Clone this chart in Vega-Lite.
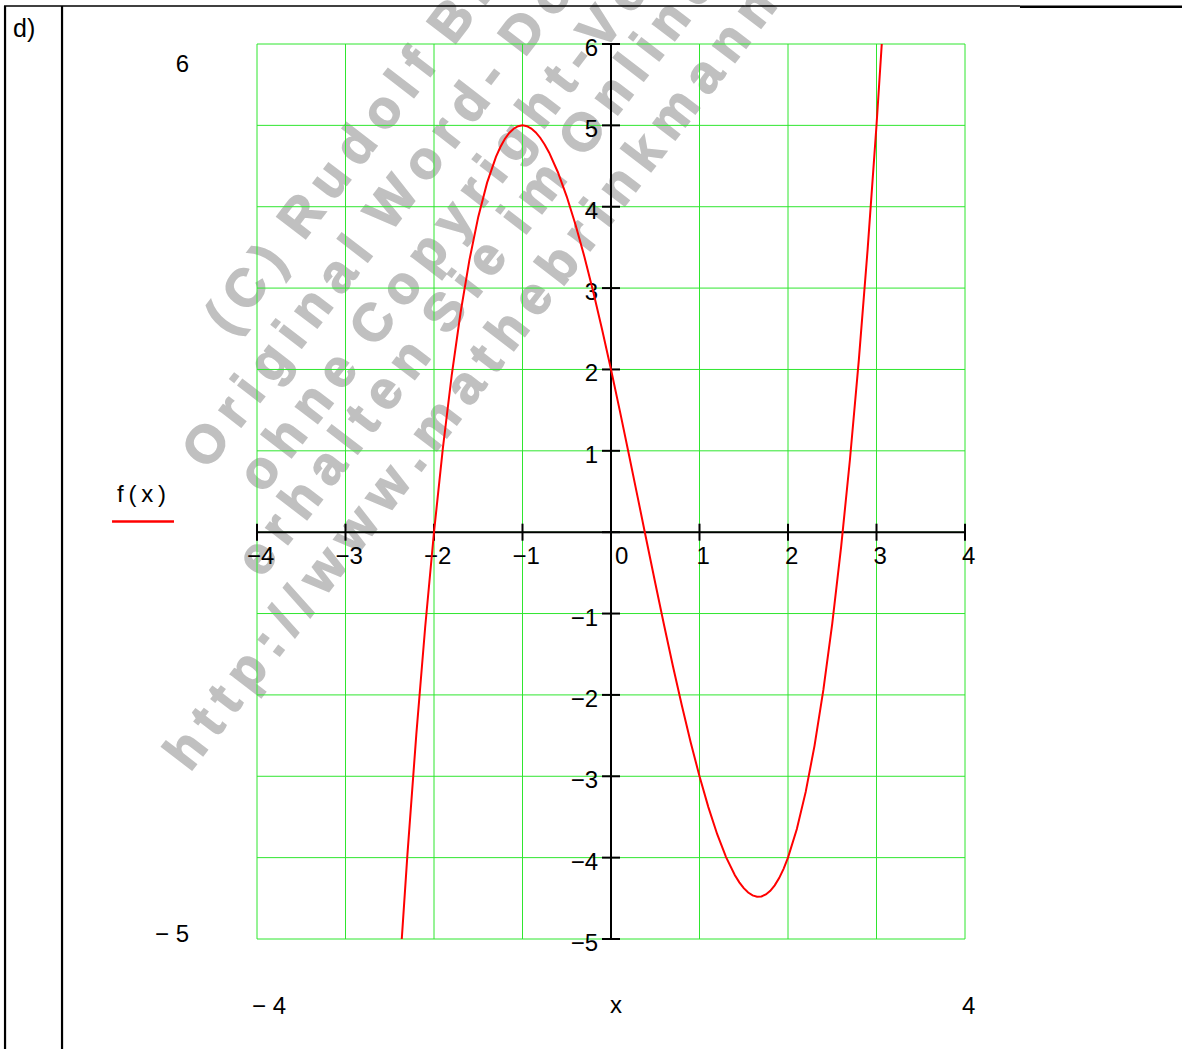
{
  "$schema": "https://vega.github.io/schema/vega-lite/v6.json",
  "width": 708,
  "height": 895,
  "autosize": {"type": "none"},
  "padding": {"left": 257, "top": 44, "right": 217, "bottom": 110},
  "background": "white",
  "config": {"view": {"stroke": null}, "axis": {"disable": true}, "text": {"font": "Liberation Sans", "fontSize": 24, "color": "black"}},
  "datasets": {
    "curve": [
      {"x": -2.4, "y": -5.584}, {"x": -2.3, "y": -3.957}, {"x": -2.2, "y": -2.488}, {"x": -2.1, "y": -1.171},
      {"x": -2.0, "y": 0}, {"x": -1.9, "y": 1.031}, {"x": -1.8, "y": 1.928}, {"x": -1.7, "y": 2.697},
      {"x": -1.6, "y": 3.344}, {"x": -1.5, "y": 3.875}, {"x": -1.4, "y": 4.296}, {"x": -1.3, "y": 4.613},
      {"x": -1.25, "y": 4.734}, {"x": -1.2, "y": 4.832}, {"x": -1.15, "y": 4.907}, {"x": -1.1, "y": 4.959},
      {"x": -1.05, "y": 4.99}, {"x": -1.0, "y": 5}, {"x": -0.95, "y": 4.99}, {"x": -0.9, "y": 4.961},
      {"x": -0.85, "y": 4.913}, {"x": -0.8, "y": 4.848}, {"x": -0.75, "y": 4.766}, {"x": -0.7, "y": 4.667},
      {"x": -0.6, "y": 4.424}, {"x": -0.5, "y": 4.125},
      {"x": -0.4, "y": 3.776}, {"x": -0.3, "y": 3.383}, {"x": -0.2, "y": 2.952}, {"x": -0.1, "y": 2.489},
      {"x": 0, "y": 2}, {"x": 0.1, "y": 1.491}, {"x": 0.2, "y": 0.968}, {"x": 0.3, "y": 0.437},
      {"x": 0.4, "y": -0.096}, {"x": 0.5, "y": -0.625}, {"x": 0.6, "y": -1.144}, {"x": 0.7, "y": -1.647},
      {"x": 0.8, "y": -2.128}, {"x": 0.9, "y": -2.581}, {"x": 1.0, "y": -3}, {"x": 1.1, "y": -3.379},
      {"x": 1.2, "y": -3.712}, {"x": 1.3, "y": -3.993}, {"x": 1.4, "y": -4.216}, {"x": 1.45, "y": -4.304},
      {"x": 1.5, "y": -4.375}, {"x": 1.55, "y": -4.429}, {"x": 1.6, "y": -4.464}, {"x": 1.65, "y": -4.48},
      {"x": 1.7, "y": -4.477}, {"x": 1.75, "y": -4.453}, {"x": 1.8, "y": -4.408}, {"x": 1.85, "y": -4.341},
      {"x": 1.9, "y": -4.251}, {"x": 1.95, "y": -4.138},
      {"x": 2.0, "y": -4}, {"x": 2.1, "y": -3.649}, {"x": 2.2, "y": -3.192}, {"x": 2.3, "y": -2.623},
      {"x": 2.4, "y": -1.936}, {"x": 2.5, "y": -1.125}, {"x": 2.6, "y": -0.184}, {"x": 2.7, "y": 0.893},
      {"x": 2.8, "y": 2.112}, {"x": 2.9, "y": 3.479}, {"x": 3.0, "y": 5}, {"x": 3.1, "y": 6.681}
    ],
    "xticks": [
      {"x": -4, "label": "−4"}, {"x": -3, "label": "−3"}, {"x": -2, "label": "−2"}, {"x": -1, "label": "−1"},
      {"x": 0, "label": "0"}, {"x": 1, "label": "1"}, {"x": 2, "label": "2"}, {"x": 3, "label": "3"}, {"x": 4, "label": "4"}
    ],
    "yticks": [
      {"y": -5, "label": "−5"}, {"y": -4, "label": "−4"}, {"y": -3, "label": "−3"}, {"y": -2, "label": "−2"},
      {"y": -1, "label": "−1"}, {"y": 0, "label": "0"}, {"y": 1, "label": "1"}, {"y": 2, "label": "2"},
      {"y": 3, "label": "3"}, {"y": 4, "label": "4"}, {"y": 5, "label": "5"}, {"y": 6, "label": "6"}
    ],
    "watermark": [
      {"t": "(\u2009C\u2009)\u2009\u00a0R\u2009u\u2009d\u2009o\u2009l\u2009f\u2009\u00a0B\u2009r\u2009i\u2009n\u2009k\u2009m\u2009a\u2009n\u2009n", "x": -4.3, "y": 2.4},
      {"t": "O\u2009r\u2009i\u2009g\u2009i\u2009n\u2009a\u2009l\u2009\u00a0W\u2009o\u2009r\u2009d\u2009-\u2009\u00a0D\u2009o\u2009k\u2009u\u2009m\u2009e\u2009n\u2009t", "x": -4.56, "y": 0.75},
      {"t": "o\u2009h\u2009n\u2009e\u2009\u00a0C\u2009o\u2009p\u2009y\u2009r\u2009i\u2009g\u2009h\u2009t\u2009-\u2009V\u2009e\u2009r\u2009m\u2009e\u2009r\u2009k", "x": -3.93, "y": 0.46},
      {"t": "e\u2009r\u2009h\u2009a\u2009l\u2009t\u2009e\u2009n\u2009\u00a0S\u2009i\u2009e\u2009\u00a0i\u2009m\u2009\u00a0O\u2009n\u2009l\u2009i\u2009n\u2009e\u2009-\u2009S\u2009h\u2009o\u2009p", "x": -3.95, "y": -0.58},
      {"t": "h\u2009t\u2009t\u2009p\u2009:\u2009/\u2009/\u2009w\u2009w\u2009w\u2009.\u2009m\u2009a\u2009t\u2009h\u2009e\u2009b\u2009r\u2009i\u2009n\u2009k\u2009m\u2009a\u2009n\u2009n\u2009.\u2009d\u2009e", "x": -4.76, "y": -2.96}
    ],
    "frameV": [
      {"x": -6.847, "y": 6.467, "y2": -6.4},
      {"x": -6.203, "y": 6.467, "y2": -6.4}
    ],
    "frameTopThin": [{"x": -6.859, "x2": 4.621, "y": 6.467}],
    "frameTopThick": [{"x": 4.621, "x2": 6.452, "y": 6.457}],
    "panel": [{"t": "d)", "x": -6.757, "y": 6.086}],
    "legendLine": [{"x": -5.638, "x2": -4.938, "y": 0.131}]
  },
  "layer": [
    {
      "data": {"name": "watermark"},
      "mark": {"type": "text", "angle": -52.5, "align": "left", "baseline": "alphabetic", "font": "Liberation Sans", "fontSize": 53, "fontWeight": 700, "color": "#c0c0c0", "stroke": "#c0c0c0", "strokeWidth": 1.5},
      "encoding": {
        "x": {"field": "x", "type": "quantitative", "scale": {"domain": [-4, 4], "nice": false, "zero": false}, "axis": null},
        "y": {"field": "y", "type": "quantitative", "scale": {"domain": [-5, 6], "nice": false, "zero": false}, "axis": null},
        "text": {"field": "t"}
      }
    },
    {
      "data": {"name": "xticks"},
      "mark": {"type": "rule", "color": "#2fe62f", "strokeWidth": 1},
      "encoding": {
        "x": {"field": "x", "type": "quantitative", "scale": {"domain": [-4, 4], "nice": false, "zero": false}, "axis": null}
      }
    },
    {
      "data": {"name": "yticks"},
      "mark": {"type": "rule", "color": "#2fe62f", "strokeWidth": 1},
      "encoding": {
        "y": {"field": "y", "type": "quantitative", "scale": {"domain": [-5, 6], "nice": false, "zero": false}, "axis": null}
      }
    },
    {
      "data": {"values": [{"o": 0}]},
      "mark": {"type": "rule", "color": "black", "strokeWidth": 2},
      "encoding": {
        "x": {"field": "o", "type": "quantitative", "scale": {"domain": [-4, 4], "nice": false, "zero": false}, "axis": null}
      }
    },
    {
      "data": {"values": [{"o": 0}]},
      "mark": {"type": "rule", "color": "black", "strokeWidth": 2},
      "encoding": {
        "y": {"field": "o", "type": "quantitative", "scale": {"domain": [-5, 6], "nice": false, "zero": false}, "axis": null}
      }
    },
    {
      "data": {"name": "xticks"},
      "mark": {"type": "tick", "orient": "vertical", "size": 17, "thickness": 2, "color": "black", "opacity": 1},
      "encoding": {
        "x": {"field": "x", "type": "quantitative", "scale": {"domain": [-4, 4], "nice": false, "zero": false}, "axis": null},
        "y": {"datum": 0, "type": "quantitative", "scale": {"domain": [-5, 6], "nice": false, "zero": false}, "axis": null}
      }
    },
    {
      "data": {"name": "yticks"},
      "mark": {"type": "tick", "orient": "horizontal", "size": 18, "thickness": 2, "color": "black", "opacity": 1},
      "encoding": {
        "x": {"datum": 0, "type": "quantitative", "scale": {"domain": [-4, 4], "nice": false, "zero": false}, "axis": null},
        "y": {"field": "y", "type": "quantitative", "scale": {"domain": [-5, 6], "nice": false, "zero": false}, "axis": null}
      }
    },
    {
      "data": {"name": "xticks"},
      "transform": [{"filter": "datum.x < 0"}],
      "mark": {"type": "text", "align": "left", "baseline": "alphabetic", "dx": -10, "dy": 32},
      "encoding": {
        "x": {"field": "x", "type": "quantitative", "scale": {"domain": [-4, 4], "nice": false, "zero": false}, "axis": null},
        "y": {"datum": 0, "type": "quantitative", "scale": {"domain": [-5, 6], "nice": false, "zero": false}, "axis": null},
        "text": {"field": "label"}
      }
    },
    {
      "data": {"name": "xticks"},
      "transform": [{"filter": "datum.x == 0"}],
      "mark": {"type": "text", "align": "left", "baseline": "alphabetic", "dx": 4, "dy": 32},
      "encoding": {
        "x": {"field": "x", "type": "quantitative", "scale": {"domain": [-4, 4], "nice": false, "zero": false}, "axis": null},
        "y": {"datum": 0, "type": "quantitative", "scale": {"domain": [-5, 6], "nice": false, "zero": false}, "axis": null},
        "text": {"field": "label"}
      }
    },
    {
      "data": {"name": "xticks"},
      "transform": [{"filter": "datum.x > 0"}],
      "mark": {"type": "text", "align": "left", "baseline": "alphabetic", "dx": -3, "dy": 32},
      "encoding": {
        "x": {"field": "x", "type": "quantitative", "scale": {"domain": [-4, 4], "nice": false, "zero": false}, "axis": null},
        "y": {"datum": 0, "type": "quantitative", "scale": {"domain": [-5, 6], "nice": false, "zero": false}, "axis": null},
        "text": {"field": "label"}
      }
    },
    {
      "data": {"name": "yticks"},
      "transform": [{"filter": "datum.y != 0"}],
      "mark": {"type": "text", "align": "right", "baseline": "alphabetic", "dx": -13, "dy": 12},
      "encoding": {
        "x": {"datum": 0, "type": "quantitative", "scale": {"domain": [-4, 4], "nice": false, "zero": false}, "axis": null},
        "y": {"field": "y", "type": "quantitative", "scale": {"domain": [-5, 6], "nice": false, "zero": false}, "axis": null},
        "text": {"field": "label"}
      }
    },
    {
      "data": {"values": [{}]},
      "mark": {"type": "text", "text": "6", "align": "right", "baseline": "alphabetic", "dx": -68, "dy": 28},
      "encoding": {
        "x": {"datum": -4, "type": "quantitative", "scale": {"domain": [-4, 4], "nice": false, "zero": false}, "axis": null},
        "y": {"datum": 6, "type": "quantitative", "scale": {"domain": [-5, 6], "nice": false, "zero": false}, "axis": null}
      }
    },
    {
      "data": {"values": [{}]},
      "mark": {"type": "text", "text": "−\u00a05", "align": "right", "baseline": "alphabetic", "dx": -68, "dy": 3},
      "encoding": {
        "x": {"datum": -4, "type": "quantitative", "scale": {"domain": [-4, 4], "nice": false, "zero": false}, "axis": null},
        "y": {"datum": -5, "type": "quantitative", "scale": {"domain": [-5, 6], "nice": false, "zero": false}, "axis": null}
      }
    },
    {
      "data": {"values": [{}]},
      "mark": {"type": "text", "text": "−\u00a04", "align": "left", "baseline": "alphabetic", "dx": -5, "dy": 75},
      "encoding": {
        "x": {"datum": -4, "type": "quantitative", "scale": {"domain": [-4, 4], "nice": false, "zero": false}, "axis": null},
        "y": {"datum": -5, "type": "quantitative", "scale": {"domain": [-5, 6], "nice": false, "zero": false}, "axis": null}
      }
    },
    {
      "data": {"values": [{}]},
      "mark": {"type": "text", "text": "x", "align": "center", "baseline": "alphabetic", "dx": 5, "dy": 74},
      "encoding": {
        "x": {"datum": 0, "type": "quantitative", "scale": {"domain": [-4, 4], "nice": false, "zero": false}, "axis": null},
        "y": {"datum": -5, "type": "quantitative", "scale": {"domain": [-5, 6], "nice": false, "zero": false}, "axis": null}
      }
    },
    {
      "data": {"values": [{}]},
      "mark": {"type": "text", "text": "4", "align": "left", "baseline": "alphabetic", "dx": -3, "dy": 75},
      "encoding": {
        "x": {"datum": 4, "type": "quantitative", "scale": {"domain": [-4, 4], "nice": false, "zero": false}, "axis": null},
        "y": {"datum": -5, "type": "quantitative", "scale": {"domain": [-5, 6], "nice": false, "zero": false}, "axis": null}
      }
    },
    {
      "data": {"values": [{}]},
      "mark": {"type": "text", "text": "f\u2009(\u2009x\u2009)", "align": "left", "baseline": "alphabetic", "dx": -140, "dy": -30},
      "encoding": {
        "x": {"datum": -4, "type": "quantitative", "scale": {"domain": [-4, 4], "nice": false, "zero": false}, "axis": null},
        "y": {"datum": 0, "type": "quantitative", "scale": {"domain": [-5, 6], "nice": false, "zero": false}, "axis": null}
      }
    },
    {
      "data": {"name": "legendLine"},
      "mark": {"type": "rule", "color": "#ff0000", "strokeWidth": 2.5},
      "encoding": {
        "x": {"field": "x", "type": "quantitative", "scale": {"domain": [-4, 4], "nice": false, "zero": false}, "axis": null},
        "x2": {"field": "x2"},
        "y": {"field": "y", "type": "quantitative", "scale": {"domain": [-5, 6], "nice": false, "zero": false}, "axis": null}
      }
    },
    {
      "data": {"name": "frameV"},
      "mark": {"type": "rule", "color": "black", "strokeWidth": 2.2},
      "encoding": {
        "x": {"field": "x", "type": "quantitative", "scale": {"domain": [-4, 4], "nice": false, "zero": false}, "axis": null},
        "y": {"field": "y", "type": "quantitative", "scale": {"domain": [-5, 6], "nice": false, "zero": false}, "axis": null},
        "y2": {"field": "y2"}
      }
    },
    {
      "data": {"name": "frameTopThin"},
      "mark": {"type": "rule", "color": "black", "strokeWidth": 1.5},
      "encoding": {
        "x": {"field": "x", "type": "quantitative", "scale": {"domain": [-4, 4], "nice": false, "zero": false}, "axis": null},
        "x2": {"field": "x2"},
        "y": {"field": "y", "type": "quantitative", "scale": {"domain": [-5, 6], "nice": false, "zero": false}, "axis": null}
      }
    },
    {
      "data": {"name": "frameTopThick"},
      "mark": {"type": "rule", "color": "black", "strokeWidth": 2.5},
      "encoding": {
        "x": {"field": "x", "type": "quantitative", "scale": {"domain": [-4, 4], "nice": false, "zero": false}, "axis": null},
        "x2": {"field": "x2"},
        "y": {"field": "y", "type": "quantitative", "scale": {"domain": [-5, 6], "nice": false, "zero": false}, "axis": null}
      }
    },
    {
      "data": {"name": "panel"},
      "mark": {"type": "text", "align": "left", "baseline": "alphabetic", "fontSize": 25},
      "encoding": {
        "x": {"field": "x", "type": "quantitative", "scale": {"domain": [-4, 4], "nice": false, "zero": false}, "axis": null},
        "y": {"field": "y", "type": "quantitative", "scale": {"domain": [-5, 6], "nice": false, "zero": false}, "axis": null},
        "text": {"field": "t"}
      }
    },
    {
      "data": {"name": "curve"},
      "mark": {"type": "line", "color": "#ff0000", "strokeWidth": 2, "clip": true},
      "encoding": {
        "x": {"field": "x", "type": "quantitative", "scale": {"domain": [-4, 4], "nice": false, "zero": false}, "axis": null},
        "y": {"field": "y", "type": "quantitative", "scale": {"domain": [-5, 6], "nice": false, "zero": false}, "axis": null}
      }
    }
  ]
}
